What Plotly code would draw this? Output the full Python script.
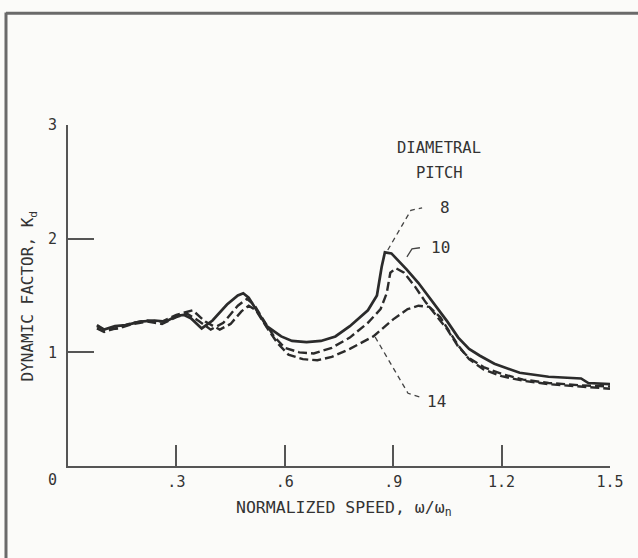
import plotly.graph_objects as go

# ---- data ----
x_p8 = [0.08, 0.10, 0.13, 0.16, 0.20, 0.24, 0.27, 0.30, 0.32, 0.34, 0.37, 0.40, 0.44, 0.47, 0.485,
        0.50, 0.53, 0.55, 0.59, 0.62, 0.66, 0.70, 0.74, 0.78, 0.83, 0.855, 0.868, 0.877, 0.895,
        0.937, 0.97, 1.00, 1.03, 1.05, 1.08, 1.11, 1.14, 1.18, 1.25, 1.33, 1.42, 1.44, 1.50]
y_p8 = [1.24, 1.20, 1.23, 1.24, 1.27, 1.28, 1.27, 1.32, 1.33, 1.30, 1.21, 1.28, 1.42, 1.50, 1.52,
        1.48, 1.33, 1.23, 1.14, 1.10, 1.09, 1.10, 1.14, 1.23, 1.37, 1.50, 1.75, 1.88, 1.87,
        1.73, 1.61, 1.48, 1.36, 1.27, 1.13, 1.03, 0.97, 0.90, 0.82, 0.785, 0.77, 0.73, 0.72]

x_p10 = [0.08, 0.10, 0.14, 0.18, 0.22, 0.26, 0.30, 0.33, 0.36, 0.395, 0.43, 0.47, 0.495, 0.515,
         0.54, 0.57, 0.60, 0.64, 0.68, 0.73, 0.78, 0.83, 0.865, 0.882, 0.892, 0.908, 0.93, 0.96,
         0.99, 1.02, 1.05, 1.08, 1.11, 1.15, 1.20, 1.26, 1.33, 1.42, 1.50]
y_p10 = [1.23, 1.20, 1.21, 1.25, 1.27, 1.25, 1.31, 1.34, 1.28, 1.20, 1.26, 1.41, 1.47, 1.42,
         1.29, 1.14, 1.04, 1.00, 0.99, 1.04, 1.13, 1.26, 1.38, 1.52, 1.70, 1.74, 1.70, 1.58,
         1.44, 1.32, 1.20, 1.05, 0.95, 0.87, 0.81, 0.76, 0.73, 0.71, 0.70]

x_p14 = [0.08, 0.10, 0.14, 0.18, 0.22, 0.26, 0.30, 0.345, 0.38, 0.42, 0.45, 0.48, 0.50, 0.52,
         0.55, 0.58, 0.61, 0.65, 0.69, 0.73, 0.78, 0.845, 0.90, 0.94, 0.97, 1.00, 1.03, 1.05,
         1.08, 1.11, 1.15, 1.20, 1.26, 1.33, 1.42, 1.50]
y_p14 = [1.21, 1.18, 1.22, 1.26, 1.28, 1.27, 1.33, 1.37, 1.27, 1.20, 1.25, 1.36, 1.41, 1.37,
         1.22, 1.08, 0.98, 0.94, 0.93, 0.96, 1.03, 1.14, 1.29, 1.38, 1.41, 1.40, 1.31, 1.21,
         1.06, 0.94, 0.85, 0.79, 0.75, 0.72, 0.70, 0.68]

x_ticks = [0.3, 0.6, 0.9, 1.2, 1.5]
x_tick_text = [".3", ".6", ".9", "1.2", "1.5"]
y_ticks = [1, 2, 3]
y_tick_text = ["1", "2", "3"]

series_labels = ["8", "10", "14"]
# label anchors (data coords) and leader lines
label_pos = [(1.043, 2.27), (1.030, 1.92), (1.021, 0.565)]
leader_8 = ([0.885, 0.949, 0.980], [1.90, 2.25, 2.27])
leader_10 = ([0.938, 0.952, 0.974], [1.84, 1.91, 1.92])
leader_14 = ([0.850, 0.941, 0.974], [1.135, 0.64, 0.607])

INK = "#2b2b2b"
GREY = "#555555"
TXT = "#333333"
FONT = "DejaVu Sans Mono"

fig = go.Figure()
fig.add_trace(go.Scatter(x=x_p8, y=y_p8, mode="lines",
                         line=dict(color=INK, width=2.7), name="8"))
fig.add_trace(go.Scatter(x=x_p10, y=y_p10, mode="lines",
                         line=dict(color=INK, width=2.4, dash="9px,4px"), name="10"))
fig.add_trace(go.Scatter(x=x_p14, y=y_p14, mode="lines",
                         line=dict(color=INK, width=2.4, dash="9px,4px"), name="14"))

# leader lines
for (lx, ly), dash in [(leader_8, "5px,4px"), (leader_10, "solid"), (leader_14, "5px,4px")]:
    fig.add_trace(go.Scatter(x=lx, y=ly, mode="lines", hoverinfo="skip",
                             line=dict(color="#444444", width=1.3, dash=dash), showlegend=False))

annotations = []
for txt, (ax, ay) in zip(series_labels, label_pos):
    annotations.append(dict(x=ax, y=ay, xref="x", yref="y", text=txt, showarrow=False,
                            xanchor="center", yanchor="middle",
                            font=dict(family=FONT, size=16, color=TXT)))
annotations.append(dict(x=1.027, y=2.80, xref="x", yref="y", text="DIAMETRAL", showarrow=False,
                        font=dict(family=FONT, size=15.5, color=TXT)))
annotations.append(dict(x=1.027, y=2.58, xref="x", yref="y", text="PITCH", showarrow=False,
                        font=dict(family=FONT, size=15.5, color=TXT)))
# origin label
annotations.append(dict(x=-0.028, y=-0.041, xref="paper", yref="paper", text="0", showarrow=False,
                        xanchor="center", yanchor="middle",
                        font=dict(family=FONT, size=15, color=TXT)))
# axis titles
annotations.append(dict(x=0.509, y=-0.126, xref="paper", yref="paper",
                        text="NORMALIZED SPEED, ω/ω<sub>n</sub>", showarrow=False,
                        xanchor="center", yanchor="middle",
                        font=dict(family=FONT, size=16.5, color=TXT)))
annotations.append(dict(x=-0.072, y=0.5, xref="paper", yref="paper",
                        text="DYNAMIC FACTOR, K<sub>d</sub>", showarrow=False, textangle=-90,
                        xanchor="center", yanchor="middle",
                        font=dict(family=FONT, size=16, color=TXT)))

shapes = [
    dict(type="line", xref="paper", yref="paper", x0=-0.1144, x1=-0.1144, y0=1.33, y1=-0.28,
         line=dict(color="#6a6a6a", width=3)),
    dict(type="line", xref="paper", yref="paper", x0=-0.1144, x1=1.06, y0=1.328, y1=1.328,
         line=dict(color="#6a6a6a", width=3)),
]

fig.update_layout(
    width=638, height=558,
    margin=dict(l=68, r=28, t=125, b=92),
    paper_bgcolor="#fbfbf9", plot_bgcolor="#fbfbf9",
    showlegend=False,
    annotations=annotations,
    shapes=shapes,
    font=dict(family=FONT, color=TXT),
)
fig.update_xaxes(range=[0, 1.5], showgrid=False, zeroline=False,
                 showline=True, linecolor=GREY, linewidth=2,
                 ticks="inside", ticklen=21, tickwidth=2, tickcolor=GREY,
                 tickvals=x_ticks, ticktext=x_tick_text, ticklabelstandoff=1,
                 tickfont=dict(family=FONT, size=15, color=TXT))
fig.update_yaxes(range=[0, 3], showgrid=False, zeroline=False,
                 showline=True, linecolor=GREY, linewidth=2,
                 ticks="inside", ticklen=26, tickwidth=2, tickcolor=GREY,
                 tickvals=y_ticks, ticktext=y_tick_text, ticklabelstandoff=6,
                 tickfont=dict(family=FONT, size=15, color=TXT))

fig.write_html("out.html")
